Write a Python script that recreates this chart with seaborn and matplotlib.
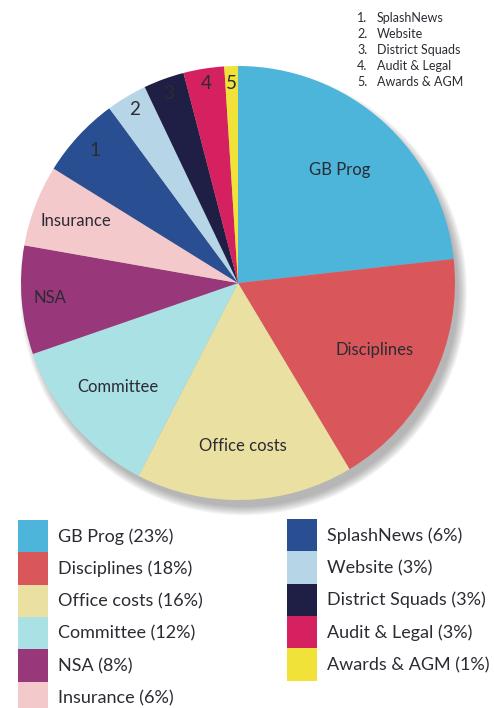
import numpy as np
import matplotlib
matplotlib.use("Agg")
import matplotlib.pyplot as plt
import matplotlib.patches as mpatches
import seaborn as sns

categories = ["GB Prog", "Disciplines", "Office costs", "Committee", "NSA", "Insurance",
              "SplashNews", "Website", "District Squads", "Audit & Legal", "Awards & AGM"]
values = [23, 18, 16, 12, 8, 6, 6, 3, 3, 3, 1]
slice_labels = ["GB Prog", "Disciplines", "Office costs", "Committee", "NSA", "Insurance",
                "1", "2", "3", "4", "5"]
colors = ["#4DB4DA", "#D9575A", "#E9E0A2", "#A9E1E4", "#98377A", "#F3C9CC",
          "#294E91", "#B6D6E8", "#1F1E45", "#D5215F", "#F0E238"]
label_radius = [0.70, 0.70, 0.75, 0.73, 0.87, 0.80, 0.90, 0.93, 0.93, 0.93, 0.92]

sns.set_theme(style="white")
plt.rcParams["font.family"] = ["Lato", "DejaVu Sans"]
palette = sns.color_palette(colors)
txt = "#2b2b33"

fig = plt.figure(figsize=(4.94, 7.08), dpi=100)
ax = fig.add_axes([21 / 494, 1 - 500 / 708, 434 / 494, 434 / 708])

# soft drop shadow (down-right)
for i in range(10):
    ax.add_patch(mpatches.Circle((0.025, -0.04), 0.99 + 0.0045 * i, facecolor="#555555",
                                 edgecolor="none", alpha=0.05, zorder=0, clip_on=False))

wedges, _ = ax.pie(values, colors=palette, startangle=90, counterclock=False,
                   wedgeprops=dict(linewidth=0, zorder=2))
ax.set_xlim(-1, 1)
ax.set_ylim(-1, 1)
ax.set_aspect("equal")
ax.axis("off")
for w, lab, r in zip(wedges, slice_labels, label_radius):
    ang = np.deg2rad((w.theta1 + w.theta2) / 2)
    fs = 12 if len(lab) > 1 else 13.5
    ax.text(r * np.cos(ang), r * np.sin(ang), lab, ha="center", va="center",
            fontsize=fs, color=txt, zorder=3)

# numbered key at top right
small = categories[6:]
for i, name in enumerate(small):
    y = 1 - (18 + i * 16) / 708
    fig.text(357 / 494, y, f"{i + 1}.", fontsize=9, color=txt, va="center", ha="left")
    fig.text(377 / 494, y, name, fontsize=9, color=txt, va="center", ha="left")

# legends
def make_handles(idx):
    hs = [mpatches.Patch(facecolor=palette[i], edgecolor="none", linewidth=0) for i in idx]
    ls = [f"{categories[i]} ({values[i]}%)" for i in idx]
    return hs, ls

common = dict(frameon=False, loc="upper left", borderpad=0, borderaxespad=0,
              labelspacing=0, handlelength=1.66, handleheight=2.38, handletextpad=0.55,
              fontsize=13, labelcolor=txt)
h1, l1 = make_handles(range(0, 6))
fig.legend(h1, l1, bbox_to_anchor=(18 / 494, 1 - 520 / 708), **common)
h2, l2 = make_handles(range(6, 11))
fig.legend(h2, l2, bbox_to_anchor=(287 / 494, 1 - 519 / 708), **common)

fig.savefig("out.png", dpi=100)
